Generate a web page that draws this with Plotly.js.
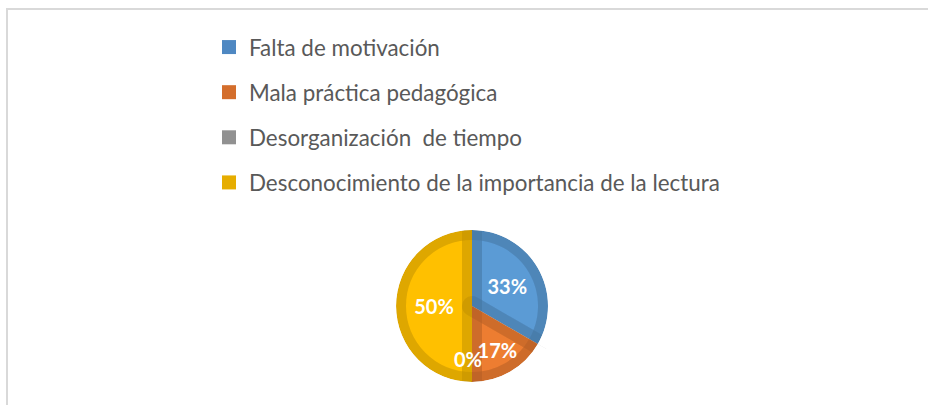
<!DOCTYPE html>
<html>
<head>
<meta charset="utf-8">
<script src="https://cdn.plot.ly/plotly-3.0.1.min.js"></script>
<style>
  html, body { margin:0; padding:0; background:#fff; }
  #wrap { position:relative; width:928px; height:405px; overflow:hidden; }
  #chart { position:absolute; left:0; top:0; width:928px; height:405px; }
  #frame { position:absolute; left:6px; top:8px; width:1000px; height:500px;
           border-left:2px solid #d9d9d9; border-top:2px solid #d9d9d9; pointer-events:none; }
</style>
</head>
<body>
<div id="wrap"><div id="chart"></div><div id="frame"></div></div>
<script>
const categories = [
  "Falta de motivación",
  "Mala práctica pedagógica",
  "Desorganización  de tiempo",
  "Desconocimiento de la importancia de la lectura"
];
const values = [2, 1, 0, 3];
const fillColors = ["#5B9BD5", "#ED7D31", "#A5A5A5", "#FFC000"];
const legendColors = ["#4E88C2", "#D46E2C", "#919191", "#E6AD00"];

const W = 928, H = 405;
const cx = 472, cy = 306, R = 76, bevel = 10;
const shade = "rgba(0,0,0,0.065)";
const clear = categories.map(() => "rgba(0,0,0,0)");
const dom = (r) => ({ x: [(cx - r) / W, (cx + r) / W], y: [(H - cy - r) / H, (H - cy + r) / H] });
const labelFont = { family: "Lato, 'Open Sans', sans-serif", size: 20, color: "#ffffff", weight: "bold" };

const common = {
  type: "pie", labels: categories, values: values, sort: false,
  direction: "clockwise", rotation: 0, showlegend: false, hoverinfo: "skip"
};

// base slices (light colour)
const base = Object.assign({}, common, {
  marker: { colors: fillColors, line: { width: 0 } },
  textinfo: "none", domain: dom(R)
});
// bevel along the outer rim
const rim = Object.assign({}, common, {
  hole: (R - bevel) / R,
  marker: { colors: categories.map(() => shade), line: { width: 0 } },
  textinfo: "none", domain: dom(R)
});
// bevel: translucent stroke along every slice edge, carries the labels
const edges = Object.assign({}, common, {
  marker: { colors: clear, line: { color: shade, width: values.map(v => v > 0 ? 2 * bevel : 0) } },
  texttemplate: "%{percent:.0%}", textposition: "inside",
  insidetextorientation: "horizontal", textfont: labelFont,
  domain: dom(R)
});
// background ring hiding the stroke outside the pie
const outside = Object.assign({}, common, {
  hole: R / (R + bevel + 4),
  marker: { colors: categories.map(() => "#ffffff"), line: { width: 0 } },
  textinfo: "none", domain: dom(R + bevel + 4)
});

const legendTraces = categories.map((c, i) => ({
  type: "scatter", mode: "markers", x: [null], y: [null],
  name: c, legendgroup: "g" + i,
  marker: { symbol: "square", size: 14, color: legendColors[i] },
  hoverinfo: "skip"
}));

// label for the zero-size slice, placed on that slice's angle
const total = values.reduce((a, b) => a + b, 0);
const annotations = [];
let cum = 0;
values.forEach((v, i) => {
  if (v === 0) {
    const a = 2 * Math.PI * (cum + v / 2) / total;
    const rr = 0.70 * R;
    annotations.push({
      xref: "paper", yref: "paper", showarrow: false,
      xanchor: "center", yanchor: "middle",
      x: (cx + rr * Math.sin(a) - 4) / W, y: (H - cy + rr * Math.cos(a)) / H,
      text: Math.round(100 * v / total) + "%", font: labelFont
    });
  }
  cum += v;
});

const layout = {
  width: W, height: H,
  margin: { l: 0, r: 0, t: 0, b: 0, autoexpand: false },
  paper_bgcolor: "#ffffff", plot_bgcolor: "#ffffff",
  xaxis: { visible: false }, yaxis: { visible: false },
  showlegend: true,
  legend: {
    x: 209 / W, y: 1 - 26 / H, xanchor: "left", yanchor: "top",
    tracegroupgap: 13,
    font: { family: "Lato, 'Open Sans', sans-serif", size: 22.4, color: "#595959" },
    bgcolor: "rgba(0,0,0,0)"
  },
  annotations: annotations
};

Plotly.newPlot("chart", [base, rim, edges, outside].concat(legendTraces), layout,
  { displayModeBar: false, staticPlot: true });
</script>
</body>
</html>
